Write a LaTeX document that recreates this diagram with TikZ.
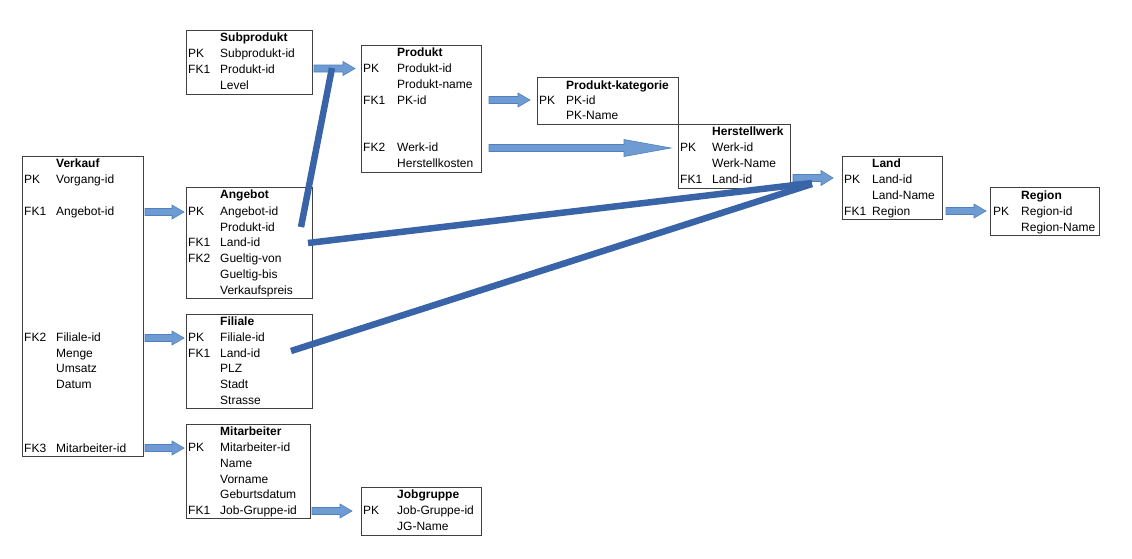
\documentclass[tikz,border=0pt]{standalone}
\usepackage{fontspec}
\setmainfont{Liberation Sans}
\usetikzlibrary{calc}
\definecolor{boxline}{HTML}{404040}
\definecolor{arrfill}{HTML}{6E9BD2}
\definecolor{arrline}{HTML}{4F7FBE}
\definecolor{thick}{HTML}{3A64A8}
\tikzset{
  tbl/.style={draw=boxline, line width=0.9pt, anchor=north west, inner sep=0pt, fill=white},
  txt/.style={anchor=base west, inner sep=0pt, font=\fontsize{12}{14}\selectfont},
  ttl/.style={txt, font=\fontsize{12}{14}\selectfont\bfseries},
  barrow/.style={fill=arrfill, draw=arrline, line width=0.6pt},
  fkline/.style={draw=thick, line width=6.5pt}
}
\newcommand\barr[4]{%
  \draw[barrow] let \p1=(#1), \p2=(#2) in
    (\x1,{\y1+3.5pt}) -- ({\x2-#3pt},{\y1+3.5pt}) -- ({\x2-#3pt},{\y1+#4pt}) --
    (\x2,\y1) -- ({\x2-#3pt},{\y1-#4pt}) -- ({\x2-#3pt},{\y1-3.5pt}) --
    (\x1,{\y1-3.5pt}) -- cycle;}
\begin{document}
\begin{tikzpicture}[x=1pt,y=-1pt]
\useasboundingbox[fill=white] (0,0) rectangle (1132,558);
% ---------- tables ----------
% Subprodukt
\node[tbl, minimum width=126pt, minimum height=64pt] (sub) at (186,30) {};
\node[ttl] (subT) at (220,41) {Subprodukt};
\node[txt] (subK1) at (188,57) {PK};  \node[txt] (subV1) at (220,57) {Subprodukt-id};
\node[txt] (subK2) at (188,73) {FK1}; \node[txt] (subV2) at (220,73) {Produkt-id};
\node[txt] (subV3) at (220,89) {Level};
% Produkt
\node[tbl, minimum width=120pt, minimum height=127pt] (prod) at (361,45) {};
\node[ttl] (prodT) at (397,56) {Produkt};
\node[txt] (prodK1) at (363,72) {PK};  \node[txt] (prodV1) at (397,72) {Produkt-id};
\node[txt] (prodV2) at (397,88) {Produkt-name};
\node[txt] (prodK3) at (363,104) {FK1}; \node[txt] (prodV3) at (397,104) {PK-id};
\node[txt] (prodK4) at (363,151) {FK2}; \node[txt] (prodV4) at (397,151) {Werk-id};
\node[txt] (prodV5) at (397,167) {Herstellkosten};
% Produkt-kategorie
\node[tbl, minimum width=141pt, minimum height=47pt] (kat) at (537,77) {};
\node[ttl] (katT) at (566,89) {Produkt-kategorie};
\node[txt] (katK1) at (539,104) {PK}; \node[txt] (katV1) at (566,104) {PK-id};
\node[txt] (katV2) at (566,119) {PK-Name};
% Herstellwerk
\node[tbl, minimum width=112pt, minimum height=64pt] (werk) at (678,124) {};
\node[ttl] (werkT) at (712,135) {Herstellwerk};
\node[txt] (werkK1) at (680,151) {PK}; \node[txt] (werkV1) at (712,151) {Werk-id};
\node[txt] (werkV2) at (712,167) {Werk-Name};
\node[txt] (werkK3) at (680,183) {FK1}; \node[txt] (werkV3) at (712,183) {Land-id};
% Land
\node[tbl, minimum width=100pt, minimum height=63pt] (land) at (842,156) {};
\node[ttl] (landT) at (872,167) {Land};
\node[txt] (landK1) at (844,183) {PK}; \node[txt] (landV1) at (872,183) {Land-id};
\node[txt] (landV2) at (872,199) {Land-Name};
\node[txt] (landK3) at (844,215) {FK1}; \node[txt] (landV3) at (872,215) {Region};
% Region
\node[tbl, minimum width=109pt, minimum height=48pt] (reg) at (990,187) {};
\node[ttl] (regT) at (1021,199) {Region};
\node[txt] (regK1) at (993,215) {PK}; \node[txt] (regV1) at (1021,215) {Region-id};
\node[txt] (regV2) at (1021,231) {Region-Name};
% Verkauf
\node[tbl, minimum width=121pt, minimum height=300pt] (verk) at (22,156) {};
\node[ttl] (verkT) at (56,167) {Verkauf};
\node[txt] (verkK1) at (24,183) {PK};  \node[txt] (verkV1) at (56,183) {Vorgang-id};
\node[txt] (verkK2) at (24,215) {FK1}; \node[txt] (verkV2) at (56,215) {Angebot-id};
\node[txt] (verkK3) at (24,341) {FK2}; \node[txt] (verkV3) at (56,341) {Filiale-id};
\node[txt] (verkV4) at (56,357) {Menge};
\node[txt] (verkV5) at (56,372) {Umsatz};
\node[txt] (verkV6) at (56,388) {Datum};
\node[txt] (verkK7) at (24,452) {FK3}; \node[txt] (verkV7) at (56,452) {Mitarbeiter-id};
% Angebot
\node[tbl, minimum width=126pt, minimum height=111pt] (ang) at (186,187) {};
\node[ttl] (angT) at (220,198) {Angebot};
\node[txt] (angK1) at (188,215) {PK};  \node[txt] (angV1) at (220,215) {Angebot-id};
\node[txt] (angV2) at (220,231) {Produkt-id};
\node[txt] (angK3) at (188,246) {FK1}; \node[txt] (angV3) at (220,246) {Land-id};
\node[txt] (angK4) at (188,262) {FK2}; \node[txt] (angV4) at (220,262) {Gueltig-von};
\node[txt] (angV5) at (220,278) {Gueltig-bis};
\node[txt] (angV6) at (220,294) {Verkaufspreis};
% Filiale
\node[tbl, minimum width=126pt, minimum height=94pt] (fil) at (186,314) {};
\node[ttl] (filT) at (220,325) {Filiale};
\node[txt] (filK1) at (188,341) {PK};  \node[txt] (filV1) at (220,341) {Filiale-id};
\node[txt] (filK2) at (188,357) {FK1}; \node[txt] (filV2) at (220,357) {Land-id};
\node[txt] (filV3) at (220,372) {PLZ};
\node[txt] (filV4) at (220,388) {Stadt};
\node[txt] (filV5) at (220,404) {Strasse};
% Mitarbeiter
\node[tbl, minimum width=124pt, minimum height=94pt] (mit) at (186,424) {};
\node[ttl] (mitT) at (220,435) {Mitarbeiter};
\node[txt] (mitK1) at (188,451) {PK};  \node[txt] (mitV1) at (220,451) {Mitarbeiter-id};
\node[txt] (mitV2) at (220,467) {Name};
\node[txt] (mitV3) at (220,483) {Vorname};
\node[txt] (mitV4) at (220,498) {Geburtsdatum};
\node[txt] (mitK5) at (188,514) {FK1}; \node[txt] (mitV5) at (220,514) {Job-Gruppe-id};
% Jobgruppe
\node[tbl, minimum width=120pt, minimum height=48pt] (job) at (361,487) {};
\node[ttl] (jobT) at (397,498) {Jobgruppe};
\node[txt] (jobK1) at (363,514) {PK}; \node[txt] (jobV1) at (397,514) {Job-Gruppe-id};
\node[txt] (jobV2) at (397,530) {JG-Name};
% ---------- arrow end points ----------
\coordinate (a1s) at (314,68.5); \coordinate (a1e) at (355,68.5);
\coordinate (a2s) at (489,100);  \coordinate (a2e) at (530,100);
\coordinate (a3s) at (489,148);  \coordinate (a3e) at (671,148);
\coordinate (a4s) at (793,178);  \coordinate (a4e) at (833,178);
\coordinate (a5s) at (946,211);  \coordinate (a5e) at (986,211);
\coordinate (a6s) at (145,212);  \coordinate (a6e) at (184,212);
\coordinate (a7s) at (145,338);  \coordinate (a7e) at (184,338);
\coordinate (a8s) at (145,448);  \coordinate (a8e) at (184,448);
\coordinate (a9s) at (312,511);  \coordinate (a9e) at (352,511);
\barr{a1s}{a1e}{12}{7}
\barr{a2s}{a2e}{12}{7}
\barr{a3s}{a3e}{47}{8.5}
\barr{a4s}{a4e}{12}{7.5}
\barr{a5s}{a5e}{12}{7}
\barr{a6s}{a6e}{12}{7}
\barr{a7s}{a7e}{12}{7}
\barr{a8s}{a8e}{12}{7}
\barr{a9s}{a9e}{12}{7}
% ---------- thick foreign key lines ----------
\coordinate (l1s) at (301,227); \coordinate (l1e) at (332,68);
\coordinate (l2s) at (308,243); \coordinate (l2e) at (812,183);
\coordinate (l3s) at (291,351); \coordinate (l3e) at (812,184);
\draw[fkline] (l1s) -- (l1e);
\draw[fkline] (l2s) -- (l2e);
\draw[fkline] (l3s) -- (l3e);
\end{tikzpicture}
\end{document}
